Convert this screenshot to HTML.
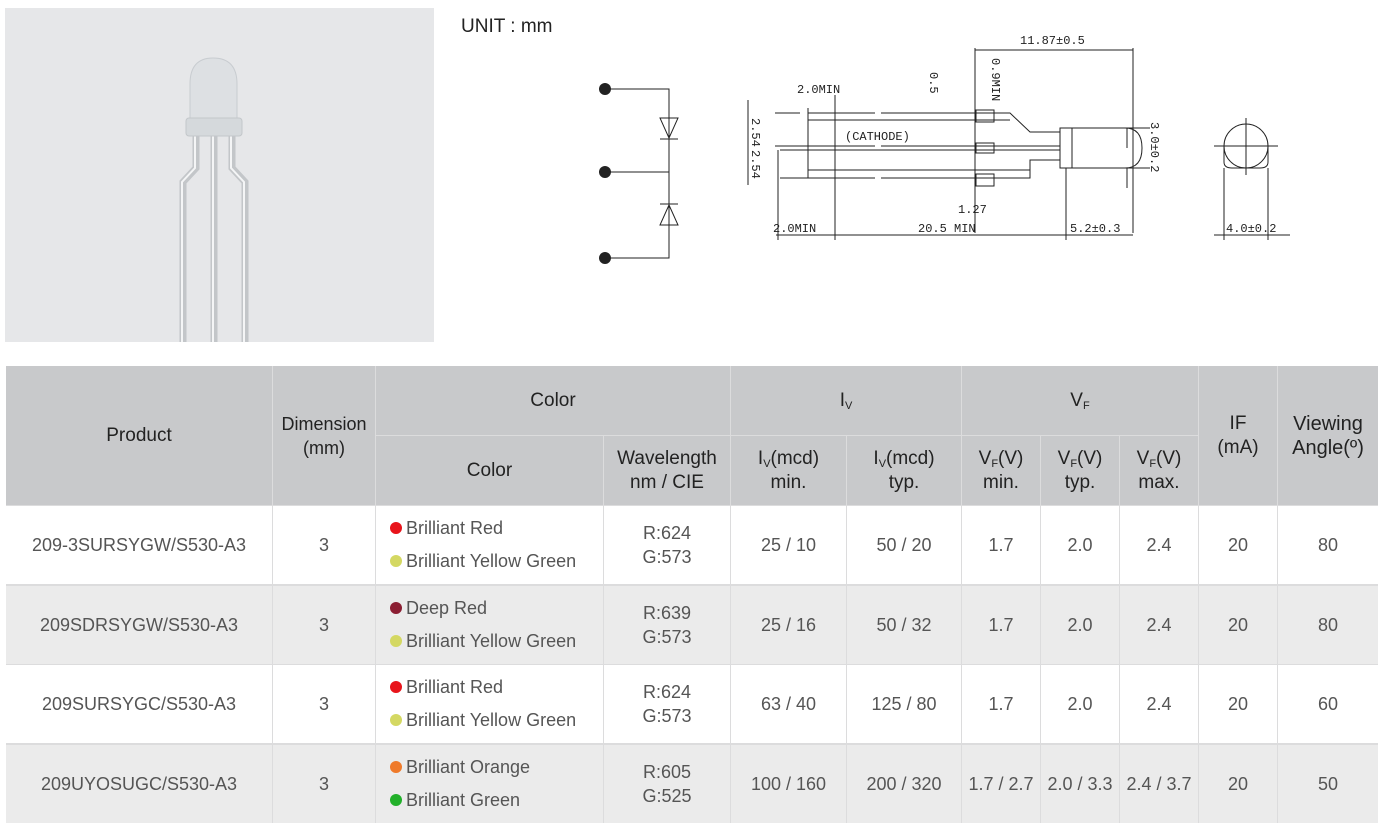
<!DOCTYPE html>
<html><head><meta charset="utf-8"><style>
body{margin:0;width:1387px;height:830px;background:#fff;position:relative;overflow:hidden;font-family:"Liberation Sans",Arial,sans-serif;color:#555}
.c{position:absolute;display:flex;align-items:center;justify-content:center;text-align:center;box-sizing:border-box;font-size:18px;line-height:24px}
.h{background:#c8c9cb;color:#222;font-size:19px}
.g{background:#ebebeb}.w{background:#fff}
.dot{display:inline-block;width:12px;height:12px;border-radius:50%;margin-right:4px;vertical-align:0px}
.cl{justify-content:flex-start;padding-left:14px;text-align:left;line-height:33px}
sub{font-size:11px;vertical-align:-3px;line-height:0}
</style></head><body>
<div style="position:absolute;left:5px;top:8px;width:429px;height:334px;background:#e6e7e9"></div>
<svg style="position:absolute;left:0;top:0" width="1387" height="360">
<g fill="none" stroke="#c3c6c9" stroke-width="7">
<path d="M196 136 V168 L183 182 V342"/>
<path d="M214 136 V342"/>
<path d="M232 136 V168 L245 182 V342"/></g>
<g fill="none" stroke="#f4f5f6" stroke-width="2"><path d="M195 136 V168 L182 182 V342"/><path d="M213 136 V342"/><path d="M231 136 V168 L244 182 V342"/></g>
<path d="M190 125 V84 Q190 58 213 58 Q237 58 237 84 V125 Z" fill="#dde0e3" stroke="#c8ccd0"/>
<rect x="186" y="118" width="56" height="18" rx="3" fill="#d5d9dc" stroke="#c3c7ca"/>
<text x="461" y="32" font-size="19" fill="#222" font-family="Liberation Sans">UNIT : mm</text>
<g stroke="#222" stroke-width="1" fill="none">
<path d="M605 89 H669 V258 H605 M605 172 H669"/>
<path d="M660 118 H678 L669 138 Z M660 139 H678 M660 225 H678 L669 205 Z M660 204 H678"/>
<path d="M775 113 H800 M808 113 H875 M881 113 H1010 L1030 132 H1060 M775 146 H875 M881 146 H1060 M780 178 H875 M881 178 H1030 L1030 160 H1060 M808 108 V178 M808 120 H1010 M780 150 H1060 M808 170 H1030"/>
<path d="M1060 128 H1072 V168 H1060 Z M1072 128 H1125 Q1142 128 1142 148 Q1142 168 1125 168 H1072"/>
<path d="M975 48 V233 M1133 48 V233 M975 50 H1133 M1066 168 V240 M835 95 V240 M748 100 V185 M778 150 V240 M776 235 H1133 M1127 128 V148 M1127 168 V188 M1120 128 H1150 M1120 168 H1150"/>
<rect x="976" y="110" width="18" height="12"/><rect x="976" y="143" width="18" height="10"/><rect x="976" y="174" width="18" height="12"/>
<circle cx="1246" cy="146" r="22"/><path d="M1224 146 V162 Q1224 168 1232 168 H1260 Q1268 168 1268 162 V146 M1246 118 V175 M1214 146 H1278 M1224 168 V240 M1268 168 V240 M1214 235 H1290"/>
</g>
<g fill="#222"><circle cx="605" cy="89" r="6"/><circle cx="605" cy="172" r="6"/><circle cx="605" cy="258" r="6"/></g>
<g font-family="Liberation Mono" font-size="12" fill="#222">
<text x="1020" y="44">11.87±0.5</text><text x="797" y="93">2.0MIN</text><text x="845" y="140">(CATHODE)</text>
<text x="958" y="213">1.27</text><text x="773" y="232">2.0MIN</text><text x="918" y="232">20.5 MIN</text><text x="1070" y="232">5.2±0.3</text><text x="1226" y="232">4.0±0.2</text>
<text transform="translate(930,72) rotate(90)">0.5</text><text transform="translate(992,58) rotate(90)">0.9MIN</text>
<text transform="translate(752,118) rotate(90)">2.54</text><text transform="translate(752,150) rotate(90)">2.54</text><text transform="translate(1151,122) rotate(90)">3.0±0.2</text>
</g></svg>
<div style="position:absolute;left:6px;top:366px;width:1372px;height:457px;background:#dcdcdd"></div>
<div class="c h" style="left:6px;top:366px;width:266px;height:139px">Product</div>
<div class="c h" style="left:273px;top:366px;width:102px;height:139px;font-size:18px"><div>Dimension<br>(mm)</div></div>
<div class="c h" style="left:376px;top:366px;width:354px;height:69px">Color</div>
<div class="c h" style="left:731px;top:366px;width:230px;height:69px"><div>I<sub>V</sub></div></div>
<div class="c h" style="left:962px;top:366px;width:236px;height:69px"><div>V<sub>F</sub></div></div>
<div class="c h" style="left:1199px;top:366px;width:78px;height:139px"><div>IF<br>(mA)</div></div>
<div class="c h" style="left:1278px;top:366px;width:100px;height:139px;font-size:20px"><div>Viewing<br>Angle(º)</div></div>
<div class="c h" style="left:376px;top:436px;width:227px;height:69px">Color</div>
<div class="c h" style="left:604px;top:436px;width:126px;height:69px"><div>Wavelength<br>nm / CIE</div></div>
<div class="c h" style="left:731px;top:436px;width:115px;height:69px"><div>I<sub>V</sub>(mcd)<br>min.</div></div>
<div class="c h" style="left:847px;top:436px;width:114px;height:69px"><div>I<sub>V</sub>(mcd)<br>typ.</div></div>
<div class="c h" style="left:962px;top:436px;width:78px;height:69px"><div>V<sub>F</sub>(V)<br>min.</div></div>
<div class="c h" style="left:1041px;top:436px;width:78px;height:69px"><div>V<sub>F</sub>(V)<br>typ.</div></div>
<div class="c h" style="left:1120px;top:436px;width:78px;height:69px"><div>V<sub>F</sub>(V)<br>max.</div></div>
<div id="rows"></div>
<script>
var R=[[506,"w","209-3SURSYGW/S530-A3","#e8141b","Brilliant Red","#d4d862","Brilliant Yellow Green","R:624","G:573","25 / 10","50 / 20","1.7","2.0","2.4","20","80"],
[586,"g","209SDRSYGW/S530-A3","#8b1e32","Deep Red","#d4d862","Brilliant Yellow Green","R:639","G:573","25 / 16","50 / 32","1.7","2.0","2.4","20","80"],
[665,"w","209SURSYGC/S530-A3","#e8141b","Brilliant Red","#d4d862","Brilliant Yellow Green","R:624","G:573","63 / 40","125 / 80","1.7","2.0","2.4","20","60"],
[745,"g","209UYOSUGC/S530-A3","#ef7a2a","Brilliant Orange","#22b02a","Brilliant Green","R:605","G:525","100 / 160","200 / 320","1.7 / 2.7","2.0 / 3.3","2.4 / 3.7","20","50"]];
var X=[[6,266],[273,102],[376,227],[604,126],[731,115],[847,114],[962,78],[1041,78],[1120,78],[1199,78],[1278,100]];
var h="";R.forEach(function(r){var y=r[0],H=78,b=r[1];
function c(i,t,e){h+='<div class="c '+b+' '+(e||'')+'" style="left:'+X[i][0]+'px;top:'+y+'px;width:'+X[i][1]+'px;height:'+H+'px"><div>'+t+'</div></div>';}
c(0,r[2]);c(1,"3");c(2,'<span class="dot" style="background:'+r[3]+'"></span>'+r[4]+'<br><span class="dot" style="background:'+r[5]+'"></span>'+r[6],"cl");
c(3,r[7]+"<br>"+r[8]);for(var i=4;i<11;i++)c(i,r[i+5]);});
document.getElementById("rows").innerHTML=h;
</script>
</body></html>
